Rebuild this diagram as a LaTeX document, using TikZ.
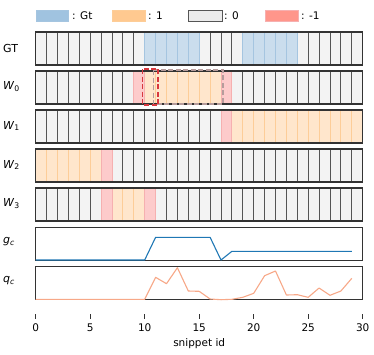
\documentclass[tikz,border=0pt]{standalone}
\usepackage{fontspec}
\setmainfont{DejaVu Sans}
\definecolor{cgray}{HTML}{F3F3F3}
\definecolor{cgrayline}{HTML}{555555}
\definecolor{cblue}{HTML}{CADDED}
\definecolor{cblueline}{HTML}{A5C5E0}
\definecolor{corange}{HTML}{FFE6CC}
\definecolor{corangeline}{HTML}{FDCD98}
\definecolor{cred}{HTML}{FDCBCB}
\definecolor{credline}{HTML}{F6B0B0}
\definecolor{lblue}{HTML}{A0C3E0}
\definecolor{lorange}{HTML}{FFC990}
\definecolor{lgray}{HTML}{EBEBEB}
\definecolor{lred}{HTML}{FF968B}
\definecolor{gcblue}{HTML}{1F77B4}
\definecolor{qcsalmon}{HTML}{F7A888}
\definecolor{dashred}{HTML}{D8383E}
\definecolor{dashgray}{HTML}{B69C9C}
\begin{document}
\begin{tikzpicture}[x=1pt,y=-1pt,
  font=\fontsize{10.5}{12}\selectfont,
  graycell/.style={fill=cgray,draw=cgrayline,line width=0.9pt},
  bluecell/.style={fill=cblue,draw=cblueline,line width=0.9pt},
  orangecell/.style={fill=corange,draw=corangeline,line width=0.9pt},
  redcell/.style={fill=cred,draw=credline,line width=0.9pt},
  frame/.style={draw=black!80,line width=1.1pt},
  legtext/.style={anchor=west,inner sep=0pt},
  rowlabel/.style={anchor=west,inner sep=0pt,font=\fontsize{11}{12}\selectfont},
  ticklabel/.style={inner sep=0pt},
  tickmark/.style={draw=black!80,line width=0.9pt},
  dashbox/.style={line width=1.8pt,dash pattern=on 5pt off 2.5pt}]
\useasboundingbox (0,0) rectangle (374,354);
% legend
\filldraw[fill=lblue,draw=cblueline,line width=0.8pt] (36,10) rectangle (68,21);
\node[legtext] (lgt) at (72,16) {: Gt};
\filldraw[fill=lorange,draw=corangeline,line width=0.8pt] (112,10) rectangle (145,21);
\node[legtext] (lone) at (148,16) {: 1};
\filldraw[fill=lgray,draw=cgrayline,line width=1pt] (188,10) rectangle (222,21);
\node[legtext] (lzero) at (224,16) {: 0};
\filldraw[fill=lred,draw=credline,line width=0.8pt] (265,10) rectangle (298,21);
\node[legtext] (lmone) at (301,16) {: -1};
% row labels
\node[rowlabel] (lGT) at (3,48) {GT};
\node[rowlabel] (lW0) at (3,87) {\textit{W}\textsubscript{0}};
\node[rowlabel] (lW1) at (3,126) {\textit{W}\textsubscript{1}};
\node[rowlabel] (lW2) at (3,165) {\textit{W}\textsubscript{2}};
\node[rowlabel] (lW3) at (3,204) {\textit{W}\textsubscript{3}};
\node[rowlabel] (lgc) at (3,242) {\textit{g}\textsubscript{\textit{c}}};
\node[rowlabel] (lqc) at (3,281) {\textit{q}\textsubscript{\textit{c}}};
\begin{scope}[xshift=35.7pt,x=10.9pt]
  \foreach \t in {32,71,110,149,188}{
    \foreach \i in {0,...,29} \filldraw[graycell] (\i,\t) rectangle ++(1,33);
  }
  % GT
  \foreach \i in {10,11,12,13,14,19,20,21,22,23} \filldraw[bluecell] (\i,32) rectangle ++(1,33);
  % W0
  \foreach \i in {10,...,16} \filldraw[orangecell] (\i,71) rectangle ++(1,33);
  \foreach \i in {9,17} \filldraw[redcell] (\i,71) rectangle ++(1,33);
  % W1
  \foreach \i in {18,...,29} \filldraw[orangecell] (\i,110) rectangle ++(1,33);
  \filldraw[redcell] (17,110) rectangle ++(1,33);
  % W2
  \foreach \i in {0,...,5} \filldraw[orangecell] (\i,149) rectangle ++(1,33);
  \filldraw[redcell] (6,149) rectangle ++(1,33);
  % W3
  \foreach \i in {7,8,9} \filldraw[orangecell] (\i,188) rectangle ++(1,33);
  \foreach \i in {6,10} \filldraw[redcell] (\i,188) rectangle ++(1,33);
  % frames
  \foreach \t in {32,71,110,149,188,227.5,266.5}
    \draw[frame] (0,\t) rectangle ++(30,33);
  % dashed boxes
  \draw[dashbox,draw=dashgray] (10.8,70) rectangle (17.2,104);
  \draw[dashbox,draw=dashred] (9.8,69) rectangle (11.25,105);
  % g_c
  \draw[gcblue,line width=1.1pt,line join=round] (0,260) -- (10,260) -- (11,237.3) -- (16,237.3) -- (17,260) -- (18,251.3) -- (29,251.3);
  % q_c
  \draw[qcsalmon,line width=1.1pt,line join=round] (0,299.3) -- (10,299.3) -- (11,277.3) -- (12,283.7) -- (13,267.7) -- (14,291) -- (15,291.3) -- (16,299) -- (17,299.7) -- (18,299.3) -- (19,297.3) -- (20,293.3) -- (21,275.7) -- (22,271) -- (23,295) -- (24,294.7) -- (25,297.3) -- (26,288) -- (27,295.3) -- (28,291) -- (29,278.3);
  % axis ticks
  \foreach \u in {0,5,...,30}{
    \draw[tickmark] (\u,314) -- (\u,318.5);
    \node[ticklabel] (t\u) at (\u,327.5) {\u};
  }
  \node[ticklabel] (xlabel) at (15,344) {snippet id};
\end{scope}
\end{tikzpicture}
\end{document}
